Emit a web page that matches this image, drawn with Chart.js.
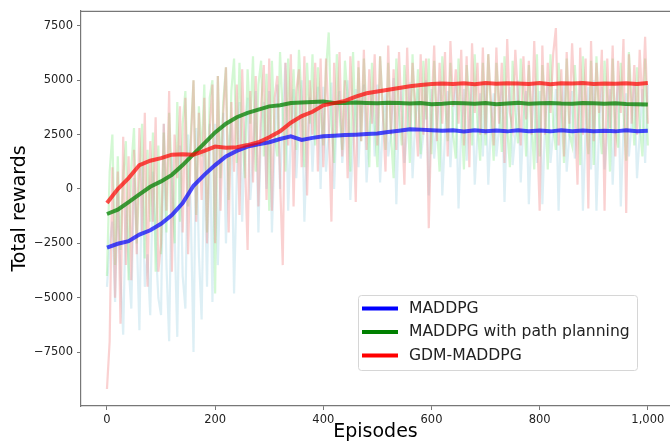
<!DOCTYPE html>
<html>
<head>
<meta charset="utf-8">
<script src="https://cdn.jsdelivr.net/npm/chart.js@4.4.1/dist/chart.umd.min.js"></script>
<style>
  body { margin: 0; background: #fff; }
  #miCanva { display: block; }
</style>
</head>
<body>
<canvas id="miCanva" width="670" height="445"></canvas>
<script>
// episodes of the raw (noisy) runs and of the smoothed curves
const rawEpisodes = [0,5,10,15,20,25,30,35,40,45,50,55,60,65,70,75,80,85,90,95,
  100,105,110,115,120,125,130,135,140,145,150,155,160,165,170,175,180,185,190,195,
  200,205,210,215,220,225,230,235,240,245,250,255,260,265,270,275,280,285,290,295,
  300,305,310,315,320,325,330,335,340,345,350,355,360,365,370,375,380,385,390,395,
  400,405,410,415,420,425,430,435,440,445,450,455,460,465,470,475,480,485,490,495,
  500,505,510,515,520,525,530,535,540,545,550,555,560,565,570,575,580,585,590,595,
  600,605,610,615,620,625,630,635,640,645,650,655,660,665,670,675,680,685,690,695,
  700,705,710,715,720,725,730,735,740,745,750,755,760,765,770,775,780,785,790,795,
  800,805,810,815,820,825,830,835,840,845,850,855,860,865,870,875,880,885,890,895,
  900,905,910,915,920,925,930,935,940,945,950,955,960,965,970,975,980,985,990,995,1000];
const smoothEpisodes = [0,20,40,60,80,100,120,140,160,180,200,220,240,260,280,300,320,340,360,380,
  400,420,440,460,480,500,520,540,560,580,600,620,640,660,680,700,720,740,760,780,
  800,820,840,860,880,900,920,940,960,980,1000];

const rawMaddpg = [-4500,-2500,-1500,-5200,0,-4000,-6700,-800,-3500,-5500,500,-2000,-6500,1200,-4500,-3000,-5800,800,-2500,-5000,
  -5800,3000,-3500,-7000,1500,-2000,-6800,2000,-4000,-5500,2500,-1000,-7500,2800,-3000,-6000,1800,-4500,3000,-5200,
  3000,-3500,1000,3500,-2500,2000,3200,-4800,500,4000,-1500,2500,4200,-500,1500,4500,-2000,3000,4000,0,
  4500,-2000,2000,4800,0,3500,5800,-1000,2500,4600,500,3000,5000,-1500,2000,4200,800,3500,4700,0,
  4700,800,2500,4900,0,3500,4500,1200,2800,5000,-500,2200,4600,1000,3800,4800,300,2500,4400,1500,
  4800,300,3000,4400,1500,2500,5100,-700,3500,4700,1200,2800,4900,500,3200,4600,1400,2500,5000,-300,
  4600,1400,3000,5000,-300,2500,4500,1000,3500,4800,-900,2800,4600,1300,3200,4900,200,2500,4400,1500,
  4900,200,3000,4400,1500,2800,4800,-600,3500,4700,1100,2500,5000,300,3200,4500,-700,2800,4900,1200,
  4500,-700,3000,4900,1200,2600,4600,-1000,3500,4800,800,2500,4500,1400,3000,5000,-1000,2800,4700,900,
  5000,-1000,3000,4700,900,2500,4600,200,3500,4900,-800,2800,4400,1500,3000,4800,500,2500,4600,1200,4800];
const rawPath = [-4000,800,2500,-3500,1500,-2800,600,2200,-4200,1000,2800,-2500,500,3000,-3200,1800,-1500,2600,-3800,2000,
  -3000,2600,-2000,3500,500,-2500,4000,-1500,3000,4500,-800,2500,5000,-1200,3800,1500,4800,-2000,4200,5000,
  -4800,5200,500,4000,5600,-500,4500,6000,1200,5800,2500,500,5500,3000,6100,800,4800,5900,1500,5300,
  -1000,5900,2500,1500,6300,3500,800,6000,2800,5500,1800,6400,4000,1000,5800,3000,6200,2000,5600,3500,
  2000,5500,7200,3000,1200,6200,3500,1800,5900,4200,800,6300,2500,5600,2200,6000,3500,1000,5800,3000,
  1000,6100,3800,1800,5800,2500,500,6000,3500,2000,5700,4000,1200,6200,2800,5500,1600,5900,3200,6000,
  1600,5900,3000,800,6100,4000,2200,5800,2500,1400,6000,3500,900,5700,4200,2000,6200,3000,1300,5800,
  2000,6200,3500,1300,5800,4000,1700,6100,2800,1000,5900,3500,2100,6000,4200,1500,5700,3000,900,6200,
  1500,5700,3800,900,6200,3000,1800,5800,4000,1200,6000,2500,2000,5700,3500,1100,6100,4000,1600,5900,
  1100,6100,3200,1600,5900,4200,800,6000,2800,1900,5800,3500,1300,6300,4000,2000,5600,3000,1500,6000,2000];
const rawGdm = [-9200,-7000,1000,-5000,800,-6200,2400,-3500,1500,-4200,1800,-3000,2800,-2000,3500,-4500,2200,-1500,3300,-3800,
  -2500,3000,-1000,4500,-3800,2500,500,3800,-2000,4200,-3000,2000,5000,-1500,3500,-500,4200,-2500,2800,4800,
  -2500,5200,-1000,3500,5600,-2000,4000,800,4800,-1200,5500,1500,-2800,4500,300,5200,-800,3800,5700,-500,
  6000,-1000,4200,5200,500,-3500,5800,2000,6200,-800,4500,5500,1000,6100,-300,5000,2500,5800,800,6000,
  1000,6000,3000,-1500,5800,2500,6300,1500,5000,500,6100,3500,-600,5900,2200,6400,1800,5500,3000,6200,
  2000,6100,3500,800,6600,2500,5500,1800,6300,3200,200,6500,2800,5800,3800,1500,6200,2500,6000,-1800,
  3500,6600,2200,5800,3000,6300,1500,6800,3800,5500,3000,6400,2000,6100,1000,6700,3500,5800,2500,6500,
  2500,6200,4000,2000,6500,3000,5800,1200,6900,3500,2800,6400,4200,2000,6100,3200,5900,2500,6800,3000,
  -1000,6600,2500,5800,3500,6200,7400,2000,5500,1500,6300,3000,6700,3800,200,6500,2500,6000,-900,6800,
  2200,5800,3500,6400,-1000,6000,2800,6600,1500,5900,3500,6900,-1100,6200,3000,5700,2500,6400,3800,7000,3000];

const smoothMaddpg = [-2700,-2520,-2400,-2100,-1900,-1600,-1200,-650,150,650,1100,1500,1750,1950,2050,2150,2300,2420,2260,2350,
  2420,2450,2480,2500,2530,2550,2620,2680,2750,2730,2700,2680,2700,2650,2700,2660,2690,2650,2700,2660,
  2690,2650,2700,2660,2690,2650,2680,2650,2700,2660,2680];
const smoothPath = [-1150,-950,-600,-250,100,350,650,1100,1600,2100,2600,3000,3300,3500,3650,3800,3850,3950,3980,4000,
  4020,3960,3950,3980,3960,3940,3970,3950,3930,3950,3900,3920,3960,3940,3920,3950,3900,3930,3960,3920,
  3940,3960,3930,3920,3950,3940,3920,3940,3910,3900,3880];
const smoothGdm = [-640,0,500,1100,1300,1420,1580,1600,1580,1750,1950,1900,1920,2020,2150,2380,2650,3050,3350,3550,
  3850,3950,4050,4250,4400,4480,4560,4640,4720,4780,4830,4850,4830,4860,4820,4870,4840,4860,4850,4830,
  4870,4820,4860,4850,4870,4830,4850,4840,4860,4830,4870];

const labels = ['MADDPG', 'MADDPG with path planning', 'GDM-MADDPG'];
const xTicks = [0, 200, 400, 600, 800, 1000];
const yTicks = [-7500, -5000, -2500, 0, 2500, 5000, 7500];

const pts = (xs, ys) => xs.map((x, i) => ({ x: x, y: ys[i] }));

const raw = (data, color, order) => ({
    data: pts(rawEpisodes, data),
    borderColor: color,
    borderWidth: 2.2,
    pointRadius: 0,
    order: order
});
const smooth = (label, data, color, order) => ({
    label: label,
    data: pts(smoothEpisodes, data),
    borderColor: color,
    borderWidth: 4,
    pointRadius: 0,
    order: order
});

const legendColors = ['#0000ff', '#008000', '#ff0000'];

const legendBox = {
    id: 'legendBox',
    afterDraw(chart) {
        const ctx = chart.ctx;
        const a = chart.chartArea;
        ctx.save();
        // top spine
        ctx.strokeStyle = '#777';
        ctx.lineWidth = 1.2;
        ctx.beginPath();
        ctx.moveTo(a.left, a.top + 0.5);
        ctx.lineTo(a.right, a.top + 0.5);
        ctx.stroke();
        // legend
        ctx.fillStyle = 'rgba(255,255,255,0.8)';
        ctx.strokeStyle = '#d6d6d6';
        ctx.lineWidth = 1;
        ctx.beginPath();
        ctx.roundRect(358.5, 295.5, 279, 75, 3);
        ctx.fill();
        ctx.stroke();
        ctx.font = '15.6px "DejaVu Sans"';
        ctx.textBaseline = 'middle';
        labels.forEach((t, i) => {
            const y = 308.5 + i * 23.5;
            ctx.strokeStyle = legendColors[i];
            ctx.lineWidth = 4;
            ctx.beginPath();
            ctx.moveTo(362, y);
            ctx.lineTo(398, y);
            ctx.stroke();
            ctx.fillStyle = '#222';
            ctx.fillText(t, 409, y);
        });
        ctx.restore();
    }
};

const tickFont = { family: 'DejaVu Sans', size: 11.5 };

new Chart(document.getElementById('miCanva'), {
    type: 'line',
    data: {
        datasets: [
            raw(rawMaddpg, 'rgba(173,216,230,0.42)', 7),
            raw(rawPath, 'rgba(144,238,144,0.4)', 6),
            raw(rawGdm, 'rgba(240,128,128,0.36)', 5),
            smooth(labels[0], smoothMaddpg, 'rgba(0,0,255,0.7)', 3),
            smooth(labels[1], smoothPath, 'rgba(0,128,0,0.75)', 2),
            smooth(labels[2], smoothGdm, 'rgba(255,0,0,0.7)', 1)
        ]
    },
    options: {
        responsive: false,
        animation: false,
        devicePixelRatio: 1,
        layout: { padding: { top: 10, right: 0, left: 0, bottom: 0 } },
        plugins: {
            legend: { display: false },
            tooltip: { enabled: false }
        },
        scales: {
            x: {
                type: 'linear',
                min: -48,
                max: 1041,
                afterBuildTicks: (s) => { s.ticks = xTicks.map(v => ({ value: v })); },
                afterFit: (s) => { s.height = 39; },
                grid: { drawOnChartArea: false, drawTicks: true, tickLength: 4, color: '#777' },
                border: { display: true, color: '#777', width: 1.2 },
                ticks: { color: '#222', font: tickFont, padding: 3, maxRotation: 0 },
                title: {
                    display: true,
                    text: 'Episodes',
                    color: '#000',
                    font: { family: 'DejaVu Sans', size: 19 },
                    padding: { top: 0, bottom: 2 }
                }
            },
            y: {
                min: -9980,
                max: 8190,
                afterBuildTicks: (s) => { s.ticks = yTicks.map(v => ({ value: v })); },
                afterFit: (s) => { s.width = 81; },
                grid: { drawOnChartArea: false, drawTicks: true, tickLength: 4, color: '#777' },
                border: { display: true, color: '#777', width: 1.2 },
                ticks: {
                    color: '#222',
                    font: tickFont,
                    padding: 4,
                    callback: (v) => String(v).replace('-', '\u2212')
                },
                title: {
                    display: true,
                    text: 'Total rewards',
                    color: '#000',
                    font: { family: 'DejaVu Sans', size: 19 },
                    padding: { top: 9, bottom: 0 }
                }
            }
        }
    },
    plugins: [legendBox]
});
</script>
</body>
</html>
